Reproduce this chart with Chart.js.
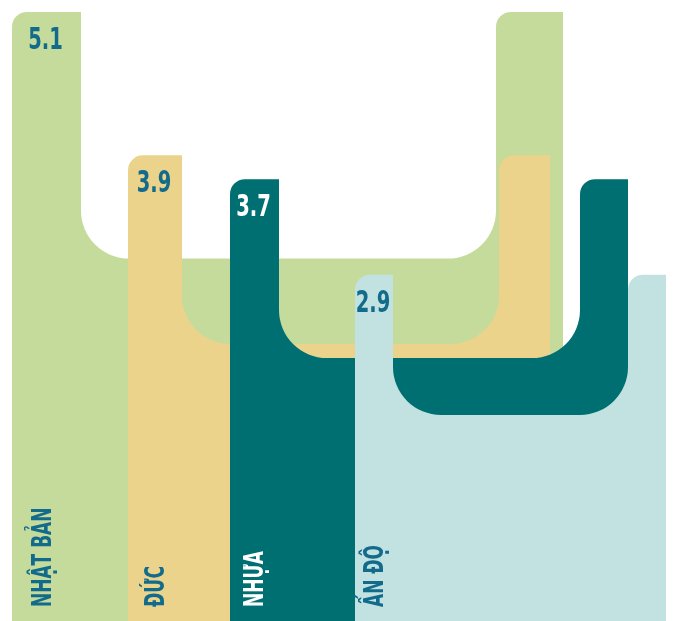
<!DOCTYPE html>
<html>
<head>
<meta charset="utf-8">
<script src="https://cdn.jsdelivr.net/npm/chart.js@4.4.1/dist/chart.umd.min.js"></script>
<style>
  html, body { margin: 0; padding: 0; background: #ffffff; }
  #wrap { width: 673px; height: 621px; position: relative; }
</style>
</head>
<body>
<div id="wrap"><canvas id="c" width="673" height="621"></canvas></div>
<script>
// ---- data ----
const categories = ['NHẬT BẢN', 'ĐỨC', 'NHỰA', 'ẤN ĐỘ'];
const values = [5.1, 3.9, 3.7, 2.9];
const valueLabels = ['5.1', '3.9', '3.7', '2.9'];

// ---- styles ----
const fillColors = ['#c5db9c', '#ebd38b', '#006f71', '#c1e2e1'];
const textColors = ['#136b8c', '#136b8c', '#ffffff', '#136b8c'];

// ---- layout (horizontal positions in units of the hidden "xp" scale) ----
const layout = {
  outerLeft:  [12, 128, 230, 355],
  innerLeft:  [81, 182, 279, 393],
  innerRight: [496, 499, 580, 628],
  outerRight: [563, 550, 628, 666],
  labelShift: [-5, 0, -1, 0],
  cutFraction: 0.595,
  topRadius: 15,
  cutRadius: 48
};

const FONT_FAMILY = '"DejaVu Sans Condensed", "DejaVu Sans", sans-serif';
const TEXT_SQUEEZE = 0.7;

const bagPlugin = {
  id: 'bagPlugin',
  beforeDatasetsDraw(chart) {
    const ctx = chart.ctx;
    const meta = chart.getDatasetMeta(0);
    const xp = chart.scales.xp;
    const y = chart.scales.y;
    ctx.save();
    meta.data.forEach((el, i) => {
      const top = el.y;
      const base = el.base;
      const L = xp.getPixelForValue(layout.outerLeft[i]);
      const Li = xp.getPixelForValue(layout.innerLeft[i]);
      const Ri = xp.getPixelForValue(layout.innerRight[i]);
      const R = xp.getPixelForValue(layout.outerRight[i]);
      const cut = y.getPixelForValue(values[i] * layout.cutFraction);
      const rt = layout.topRadius, rc = layout.cutRadius;
      ctx.beginPath();
      ctx.moveTo(L, base);
      ctx.lineTo(L, top + rt);
      ctx.arcTo(L, top, L + rt, top, rt);
      ctx.lineTo(Li, top);
      ctx.lineTo(Li, cut - rc);
      ctx.arcTo(Li, cut, Li + rc, cut, rc);
      ctx.lineTo(Ri - rc, cut);
      ctx.arcTo(Ri, cut, Ri, cut - rc, rc);
      ctx.lineTo(Ri, top + rt);
      ctx.arcTo(Ri, top, Ri + rt, top, rt);
      ctx.lineTo(R, top);
      ctx.lineTo(R, base);
      ctx.closePath();
      ctx.fillStyle = fillColors[i];
      ctx.fill();

      const cx = (L + Li) / 2;
      // value label (condensed)
      ctx.save();
      ctx.fillStyle = textColors[i];
      ctx.font = 'bold 31px ' + FONT_FAMILY;
      ctx.textAlign = 'center';
      ctx.textBaseline = 'alphabetic';
      ctx.translate(cx - 1, top + 37);
      ctx.scale(TEXT_SQUEEZE, 1);
      ctx.fillText(valueLabels[i], 0, 0);
      ctx.restore();
      // category label (rotated, condensed)
      ctx.save();
      ctx.fillStyle = textColors[i];
      ctx.font = 'bold 27px ' + FONT_FAMILY;
      ctx.textAlign = 'left';
      ctx.textBaseline = 'alphabetic';
      ctx.translate(cx + 9 + layout.labelShift[i], base - 14);
      ctx.rotate(-Math.PI / 2);
      ctx.scale(TEXT_SQUEEZE, 1);
      ctx.fillText(categories[i], 0, 0);
      ctx.restore();
    });
    ctx.restore();
    return false;
  }
};

new Chart(document.getElementById('c'), {
  type: 'bar',
  data: {
    labels: categories,
    datasets: [{
      label: 'Giá trị',
      data: values,
      backgroundColor: fillColors
    }]
  },
  options: {
    responsive: false,
    animation: false,
    layout: { padding: 0 },
    plugins: { legend: { display: false }, tooltip: { enabled: false } },
    scales: {
      x: { display: false, offset: false },
      xp: { type: 'linear', axis: 'x', position: 'bottom', display: false, offset: false, grace: 0, min: 0, max: 673 },
      y: { display: false, min: 0, max: 5.2 }
    }
  },
  plugins: [bagPlugin]
});
</script>
</body>
</html>
